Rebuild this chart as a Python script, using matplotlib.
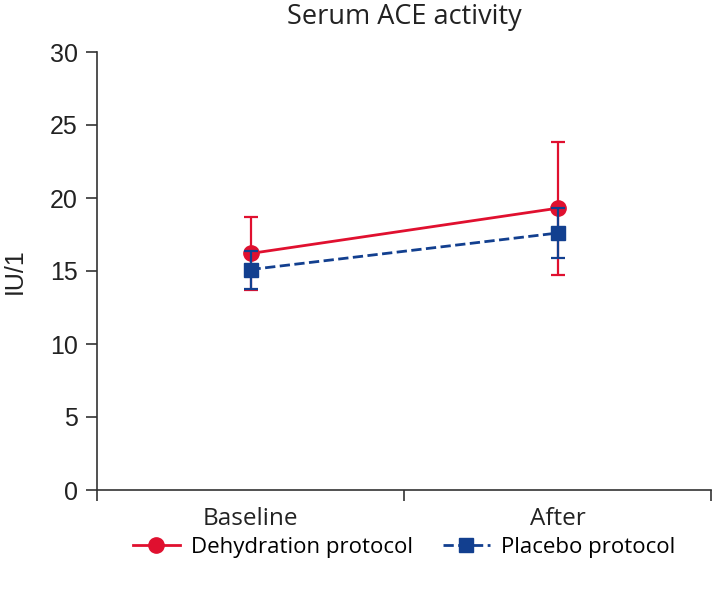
import matplotlib.pyplot as plt
from matplotlib.lines import Line2D
from matplotlib.ticker import FixedLocator, NullFormatter

categories = ['Baseline', 'After']
dehydration = [16.2, 19.3]
dehydration_err = [2.5, 4.55]
placebo = [15.1, 17.6]
placebo_err = [1.3, 1.7]

red = '#E0102F'
blue = '#123F8F'

fig = plt.figure(figsize=(7.12, 5.9), dpi=100)
ax = fig.add_axes([97 / 712, 100 / 590, 614 / 712, 438 / 590])

x = list(range(len(categories)))
ax.errorbar(x, dehydration, yerr=dehydration_err, color=red, lw=2, marker='o',
            markersize=11, capsize=5, elinewidth=1.6, capthick=1.6, zorder=3)
ax.errorbar(x, placebo, yerr=placebo_err, color=blue, lw=2, ls='--', marker='s',
            markersize=10, capsize=5, elinewidth=1.6, capthick=1.6, zorder=4)

ax.set_xlim(-0.5, 1.5)
ax.set_ylim(0, 30)
ax.set_yticks(range(0, 31, 5))
ax.xaxis.set_major_locator(FixedLocator([-0.5, 0.5, 1.5]))
ax.xaxis.set_major_formatter(NullFormatter())
ax.xaxis.set_minor_locator(FixedLocator(x))
ax.set_xticklabels(categories, minor=True)
ax.tick_params(axis='x', which='minor', length=0, pad=12, labelsize=17.5, labelcolor='#222222')
ax.tick_params(axis='x', which='major', length=8, width=1.2, color='#333333')
ax.tick_params(axis='y', length=8, width=1.2, color='#333333', labelsize=18,
               labelcolor='#222222', pad=6)

for lab in ax.get_yticklabels():
    lab.set_fontfamily('Liberation Sans')
for lab in ax.get_xticklabels(minor=True):
    lab.set_fontfamily('Open Sans')

for side in ['top', 'right']:
    ax.spines[side].set_visible(False)
for side in ['left', 'bottom']:
    ax.spines[side].set_linewidth(1.2)
    ax.spines[side].set_color('#333333')

ax.set_ylabel('IU/1', fontsize=18, family='Liberation Sans', color='#222222')
ax.yaxis.set_label_coords(-0.115, 0.5)
ax.set_title('Serum ACE activity', fontsize=19.5, family='Open Sans', color='#222222', pad=20)

handles = [
    Line2D([], [], color=red, lw=2, marker='o', markersize=11),
    Line2D([], [], color=blue, lw=2, ls='--', marker='s', markersize=10),
]
labels = ['Dehydration protocol', 'Placebo protocol']
fig.legend(handles, labels, loc='center', bbox_to_anchor=(404 / 712, 1 - 547 / 590),
           ncol=2, frameon=False, handlelength=2.1, handletextpad=0.5, columnspacing=1.35,
           prop={'family': 'Open Sans', 'size': 16})

fig.savefig('out.png', dpi=100)
